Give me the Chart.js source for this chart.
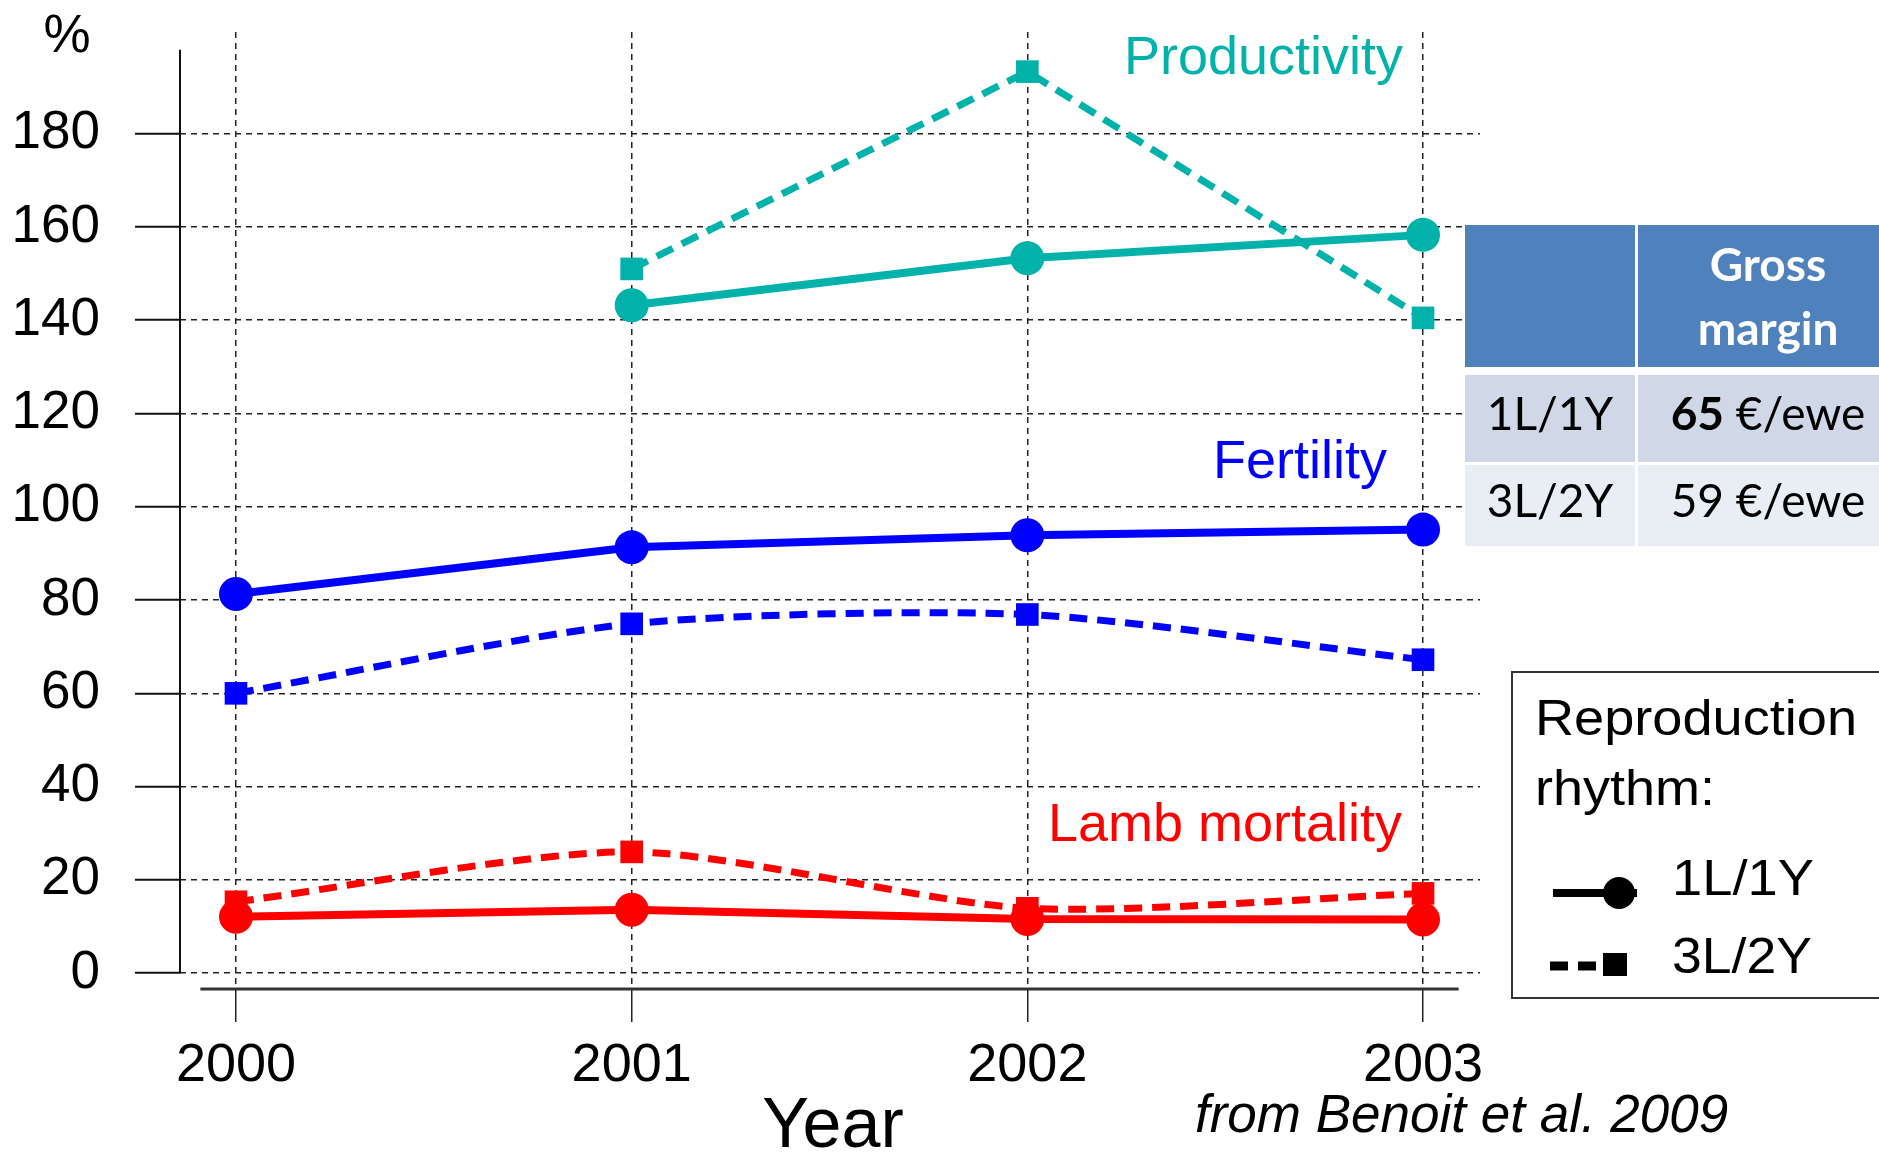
<!DOCTYPE html>
<html lang="en">
<head>
<meta charset="UTF-8">
<title>Reproduction rhythm - Benoit et al. 2009</title>
<script src="https://cdn.jsdelivr.net/npm/chart.js"></script>
<style>
  html, body { margin: 0; padding: 0; width: 1879px; height: 1154px; overflow: hidden; background: #fff; }
  #wrap { position: relative; width: 1879px; height: 1154px; }
  #wrap canvas, #wrap svg { position: absolute; left: 0; top: 0; }
  /* tableau marge brute */
  #margin-table {
    position: absolute; left: 1465px; top: 225px;
    display: grid;
    grid-template-columns: 170px 260px;
    grid-template-rows: 142px 2px 87px 81px;
    column-gap: 3px; row-gap: 3px;
    font-family: Lato, "Open Sans", sans-serif; font-size: 46px; color: #000;
  }
  #margin-table .cell { display: flex; align-items: center; justify-content: center; white-space: nowrap; }
  #margin-table .head { background: #4f81bd; color: #fff; font-weight: bold; line-height: 64px; text-align: center; }
  #margin-table .r1 { background: #d0d8e8; padding-bottom: 12px; box-sizing: border-box; }
  #margin-table .r2 { background: #e9edf4; padding-bottom: 12px; box-sizing: border-box; }
  #margin-table .gap { grid-column: span 2; }
</style>
</head>
<body>

<div id="wrap">
  <canvas id="chart" width="1879" height="1154"></canvas>

  <svg width="1879" height="1154" font-family="Liberation Sans, Arial, sans-serif">
    <text x="67" y="52" font-size="53" text-anchor="middle">%</text>
    <text x="1403" y="74" font-size="54" text-anchor="end" fill="#00b2aa">Productivity</text>
    <text x="1387" y="478" font-size="54" text-anchor="end" fill="#0000ff">Fertility</text>
    <text x="1402" y="841" font-size="54" text-anchor="end" fill="#ff0000">Lamb mortality</text>
    <text x="833" y="1147" font-size="70" text-anchor="middle">Year</text>
    <text x="1195" y="1132" font-size="53" font-style="italic">from Benoit et al. 2009</text>

    <!-- legende -->
    <rect x="1512" y="672" width="420" height="326" fill="#fff" stroke="#333" stroke-width="2"></rect>
    <text x="1535" y="735" font-size="50" textLength="322" lengthAdjust="spacingAndGlyphs">Reproduction</text>
    <text x="1535" y="805" font-size="50" textLength="180" lengthAdjust="spacingAndGlyphs">rhythm:</text>
    <line x1="1553" y1="893" x2="1637" y2="893" stroke="#000" stroke-width="8"></line>
    <circle cx="1619" cy="893" r="16" fill="#000"></circle>
    <text x="1672" y="895" font-size="50" textLength="142" lengthAdjust="spacingAndGlyphs">1L/1Y</text>
    <line x1="1550" y1="966" x2="1597" y2="966" stroke="#000" stroke-width="9" stroke-dasharray="18 10"></line>
    <rect x="1603" y="953" width="24" height="23" fill="#000"></rect>
    <text x="1672" y="973" font-size="50" textLength="140" lengthAdjust="spacingAndGlyphs">3L/2Y</text>
  </svg>

  <div id="margin-table"></div>
</div>

<script>
  // annees et valeurs (%)
  var years = [2000, 2001, 2002, 2003];
  var yTicks = [0, 20, 40, 60, 80, 100, 120, 140, 160, 180];

  // 1L/1Y = trait plein + rond, 3L/2Y = tirets + carre
  var prod1L1Y = [null, 143.2, 153.3, 158.3];
  var prod3L2Y = [null, 151.0, 193.3, 140.5];
  var fert1L1Y = [81.3, 91.3, 93.9, 95.1];
  var fert3L2Y = [60.0, 74.9, 76.9, 67.2];
  var mort1L1Y = [12.1, 13.6, 11.6, 11.5];
  var mort3L2Y = [15.3, 26.0, 13.9, 17.1];

  // tableau
  var rhythms = ["1L/1Y", "3L/2Y"];
  var grossMargin = [65, 59];

  var teal = "#00b2aa";
  var blue = "#0000ff";
  var red = "#ff0000";
  var fontFamily = "'Liberation Sans', Arial, sans-serif";

  function serie(values, color, dashed, tension) {
    return {
      data: years.map(function (x, i) { return { x: x, y: values[i] }; }),
      borderColor: color,
      backgroundColor: color,
      borderWidth: dashed ? 7 : 8,
      borderDash: dashed ? [18, 10] : [],
      pointStyle: dashed ? "rect" : "circle",
      pointRadius: dashed ? 16 : 17,
      pointBorderWidth: 0,
      tension: tension || 0
    };
  }

  // lignes d'axes detachees (style R)
  var axisLines = {
    id: "axisLines",
    beforeDatasetsDraw: function (chart) {
      var ctx = chart.ctx, x = chart.scales.x, y = chart.scales.y;
      ctx.save();
      ctx.strokeStyle = "#111";
      ctx.lineWidth = 2;
      ctx.beginPath();
      ctx.moveTo(x.left, y.getPixelForValue(0));
      ctx.lineTo(x.left, y.getPixelForValue(198));
      ctx.stroke();
      ctx.lineWidth = 3;
      ctx.strokeStyle = "#333";
      ctx.beginPath();
      ctx.moveTo(x.getPixelForValue(1999.91), y.bottom);
      ctx.lineTo(x.getPixelForValue(2003.09), y.bottom);
      ctx.stroke();
      ctx.restore();
    }
  };

  new Chart(document.getElementById("chart"), {
    type: "line",
    data: {
      datasets: [
        serie(prod1L1Y, teal, false),
        serie(fert1L1Y, blue, false),
        serie(mort1L1Y, red, false),
        serie(prod3L2Y, teal, true),
        serie(fert3L2Y, blue, true, 0.25),
        serie(mort3L2Y, red, true, 0.25)
      ]
    },
    options: {
      responsive: false,
      animation: false,
      layout: { padding: { top: 32, right: 399, left: 0, bottom: 0 } },
      plugins: { legend: { display: false }, tooltip: { enabled: false } },
      scales: {
        x: {
          type: "linear",
          min: 1999.8585,
          max: 2003.144,
          afterBuildTicks: function (axis) { axis.ticks = years.map(function (v) { return { value: v }; }); },
          afterFit: function (axis) { axis.height = 165; },
          ticks: {
            callback: function (v) { return String(v); },
            font: { family: fontFamily, size: 54 },
            color: "#000",
            padding: 12,
            maxRotation: 0,
            autoSkip: false
          },
          grid: { color: "#222", lineWidth: 1.5, tickLength: 33, tickColor: "#222", tickWidth: 1.5, tickBorderDash: [] },
          border: { display: false, dash: [6, 5] }
        },
        y: {
          min: -3.4,
          max: 201.8,
          afterBuildTicks: function (axis) { axis.ticks = yTicks.map(function (v) { return { value: v }; }); },
          afterFit: function (axis) {
            axis.width = 180;
            // pas de marge auto pour les etiquettes, la zone reste calee sur le padding
            axis.paddingTop = 0;
            axis.paddingBottom = 0;
          },
          ticks: {
            font: { family: fontFamily, size: 53 },
            color: "#000",
            padding: 35
          },
          grid: { color: "#222", lineWidth: 1.5, tickLength: 45, tickColor: "#111", tickWidth: 2, tickBorderDash: [] },
          border: { display: false, dash: [6, 5] }
        }
      }
    },
    plugins: [axisLines]
  });

  // construction du tableau
  var tbl = document.getElementById("margin-table");
  var html = '<div class="cell head"></div><div class="cell head">Gross<br>margin</div><div class="gap"></div>';
  rhythms.forEach(function (r, i) {
    var cls = i === 0 ? "r1" : "r2";
    var val = i === 0 ? "<b>" + grossMargin[i] + "</b>" : grossMargin[i];
    html += '<div class="cell ' + cls + '">' + r + '</div>';
    html += '<div class="cell ' + cls + '">' + val + '&nbsp;€/ewe</div>';
  });
  tbl.innerHTML = html;
</script>
</body>
</html>
